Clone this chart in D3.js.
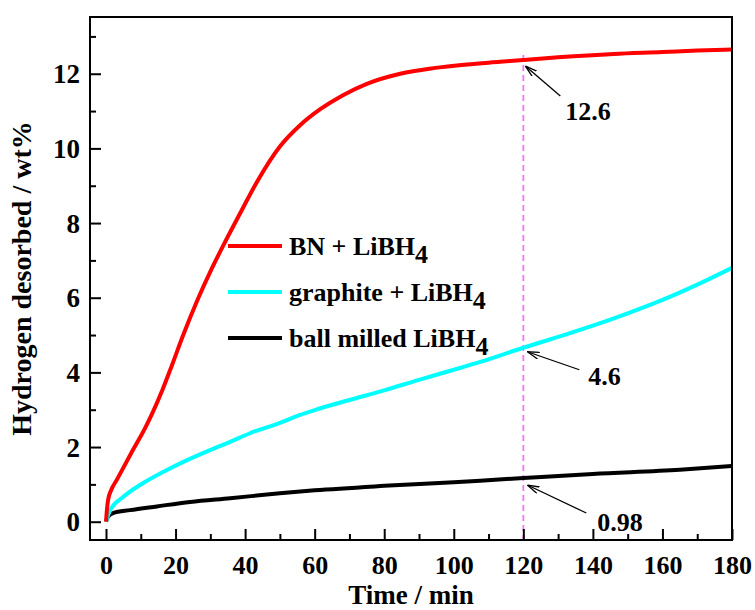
<!DOCTYPE html>
<html>
<head>
<meta charset="utf-8">
<script src="https://cdn.jsdelivr.net/npm/d3@7"></script>
<style>
  body { margin: 0; background: #fff; }
  svg text { font-family: "Liberation Serif", "Times New Roman", serif; font-weight: bold; fill: #000; }
</style>
</head>
<body>
<div id="chart"></div>
<script>
// values (time in min, hydrogen in wt%)
const bnTime = [0, 0.3, 0.6, 1.5, 3.1, 5, 7.5, 11.2, 13.2, 16.1, 19, 22.2, 26.3, 30, 34, 38.5, 43.4, 50, 55.8, 61.6, 68, 75, 84.6, 94.1, 103.8, 113.3, 120, 130, 146, 160, 170, 180];
const bnValue = [0, 0.35, 0.58, 0.85, 1.12, 1.45, 1.88, 2.5, 2.88, 3.5, 4.2, 5.0, 5.94, 6.7, 7.45, 8.25, 9.1, 10.05, 10.62, 11.05, 11.42, 11.73, 12.0, 12.15, 12.25, 12.32, 12.37, 12.44, 12.53, 12.58, 12.62, 12.65];

const graphiteTime = [0, 1.2, 4.9, 10.6, 16.4, 23.3, 29.9, 35.7, 41.4, 50, 55.8, 60, 70, 80, 90, 100, 107.6, 120, 130, 140, 150, 160, 170, 180];
const graphiteValue = [0, 0.31, 0.66, 1.03, 1.33, 1.65, 1.92, 2.14, 2.37, 2.65, 2.86, 2.99, 3.26, 3.52, 3.8, 4.07, 4.28, 4.66, 4.95, 5.25, 5.58, 5.94, 6.35, 6.8];

const milledTime = [0, 0.5, 2, 6.9, 14.6, 24.2, 35.7, 50, 60, 80, 100, 107.6, 120, 140, 165, 180];
const milledValue = [0, 0.12, 0.23, 0.31, 0.41, 0.53, 0.63, 0.76, 0.84, 0.96, 1.06, 1.1, 1.17, 1.28, 1.39, 1.49];

const seriesNames = ["BN + LiBH", "graphite + LiBH", "ball milled LiBH"];
const seriesColors = ["#ff0000", "#00ffff", "#000000"];

const xTicks = [0, 20, 40, 60, 80, 100, 120, 140, 160, 180];
const yTicks = [0, 2, 4, 6, 8, 10, 12];

const markTime = 120;
const markLabels = ["12.6", "4.6", "0.98"];

const width = 755, height = 610;
const plotLeft = 90, plotRight = 732, plotTop = 17, plotBottom = 540;

const svg = d3.select("#chart").append("svg")
    .attr("width", width)
    .attr("height", height);

const x = d3.scaleLinear().domain([-4.6, 180]).range([plotLeft, plotRight]);
const y = d3.scaleLinear().domain([-0.49, 13.52]).range([plotBottom, plotTop]);

const series = [
    bnTime.map((t, i) => ({ t, v: bnValue[i] })),
    graphiteTime.map((t, i) => ({ t, v: graphiteValue[i] })),
    milledTime.map((t, i) => ({ t, v: milledValue[i] }))
];

// arrow marker
svg.append("defs").append("marker")
    .attr("id", "arrow")
    .attr("viewBox", "0 0 12 8")
    .attr("refX", 12).attr("refY", 4)
    .attr("markerWidth", 12).attr("markerHeight", 8)
    .attr("markerUnits", "userSpaceOnUse")
    .attr("orient", "auto")
    .append("path")
    .attr("d", "M0,0.5 L12,4 L0,7.5")
    .attr("fill", "none")
    .attr("stroke", "#000")
    .attr("stroke-width", 1.3);

// dashed marker line at 120 min
svg.append("line")
    .attr("x1", x(markTime)).attr("x2", x(markTime))
    .attr("y1", y(12.5)).attr("y2", plotBottom)
    .attr("stroke", "#ff70ff")
    .attr("stroke-width", 1.8)
    .attr("stroke-dasharray", "6,4");

// curves
const line = d3.line()
    .x(d => x(d.t))
    .y(d => y(d.v))
    .curve(d3.curveMonotoneX);

// draw black first so colours sit on top like the original
[2, 1, 0].forEach(i => {
    svg.append("path")
        .datum(series[i])
        .attr("d", line)
        .attr("fill", "none")
        .attr("stroke", seriesColors[i])
        .attr("stroke-width", 4)
        .attr("stroke-linejoin", "round");
});

// axes: ticks inward, minor ticks between majors
const xAxis = d3.axisBottom(x).tickValues(xTicks).tickSize(-11).tickPadding(0).tickFormat(d3.format("d"));
const xMinor = d3.axisBottom(x).tickValues(d3.range(10, 180, 20)).tickSize(-6).tickFormat("");
const yAxis = d3.axisLeft(y).tickValues(yTicks).tickSize(-11).tickPadding(0).tickFormat(d3.format("d"));
const yMinor = d3.axisLeft(y).tickValues(d3.range(1, 14, 2)).tickSize(-6).tickFormat("");

const gx = svg.append("g").attr("transform", `translate(0,${plotBottom})`).call(xAxis);
svg.append("g").attr("transform", `translate(0,${plotBottom})`).call(xMinor);
const gy = svg.append("g").attr("transform", `translate(${plotLeft},0)`).call(yAxis);
svg.append("g").attr("transform", `translate(${plotLeft},0)`).call(yMinor);

svg.selectAll(".domain").remove();
svg.selectAll(".tick line").attr("stroke", "#000").attr("stroke-width", 2);
gx.selectAll(".tick text")
    .attr("y", 34)
    .attr("dy", 0)
    .style("font-size", "26px");
gy.selectAll(".tick text")
    .attr("x", -10)
    .attr("dy", "0.34em")
    .style("font-size", "27px");

// frame
svg.append("rect")
    .attr("x", plotLeft).attr("y", plotTop)
    .attr("width", plotRight - plotLeft).attr("height", plotBottom - plotTop)
    .attr("fill", "none")
    .attr("stroke", "#000")
    .attr("stroke-width", 2);

// axis titles
svg.append("text")
    .attr("x", (plotLeft + plotRight) / 2)
    .attr("y", 604)
    .attr("text-anchor", "middle")
    .style("font-size", "27px")
    .text("Time / min");

svg.append("text")
    .attr("transform", `translate(31,${(plotTop + plotBottom) / 2}) rotate(-90)`)
    .attr("text-anchor", "middle")
    .style("font-size", "28px")
    .text("Hydrogen desorbed / wt%");

// legend
const legend = svg.append("g").attr("transform", "translate(228,246)");
seriesNames.forEach((name, i) => {
    const row = legend.append("g").attr("transform", `translate(0,${i * 46})`);
    row.append("line")
        .attr("x1", 0).attr("x2", 54)
        .attr("stroke", seriesColors[i])
        .attr("stroke-width", 4);
    const label = row.append("text")
        .attr("x", 61)
        .attr("y", 9)
        .style("font-size", "26px");
    label.append("tspan").text(name);
    label.append("tspan").attr("dy", 8).text("4");
});

// annotations at 120 min
const markValues = series.map(s => {
    const j = s.findIndex(d => d.t === markTime);
    return s[j].v;
});
const tipShift = [[2, 6], [4, 4], [4, 7]];
const tailShift = [[35, 30], [52, 18], [59, 28]];
const textShift = [[5, 24], [9, 15], [11, 18]];

markLabels.forEach((label, i) => {
    const px = x(markTime), py = y(markValues[i]);
    const tip = [px + tipShift[i][0], py + tipShift[i][1]];
    const tail = [tip[0] + tailShift[i][0], tip[1] + tailShift[i][1]];
    svg.append("line")
        .attr("x1", tail[0]).attr("y1", tail[1])
        .attr("x2", tip[0]).attr("y2", tip[1])
        .attr("stroke", "#000")
        .attr("stroke-width", 1.3)
        .attr("marker-end", "url(#arrow)");
    svg.append("text")
        .attr("x", tail[0] + textShift[i][0])
        .attr("y", tail[1] + textShift[i][1])
        .style("font-size", "26px")
        .text(label);
});
</script>
</body>
</html>
